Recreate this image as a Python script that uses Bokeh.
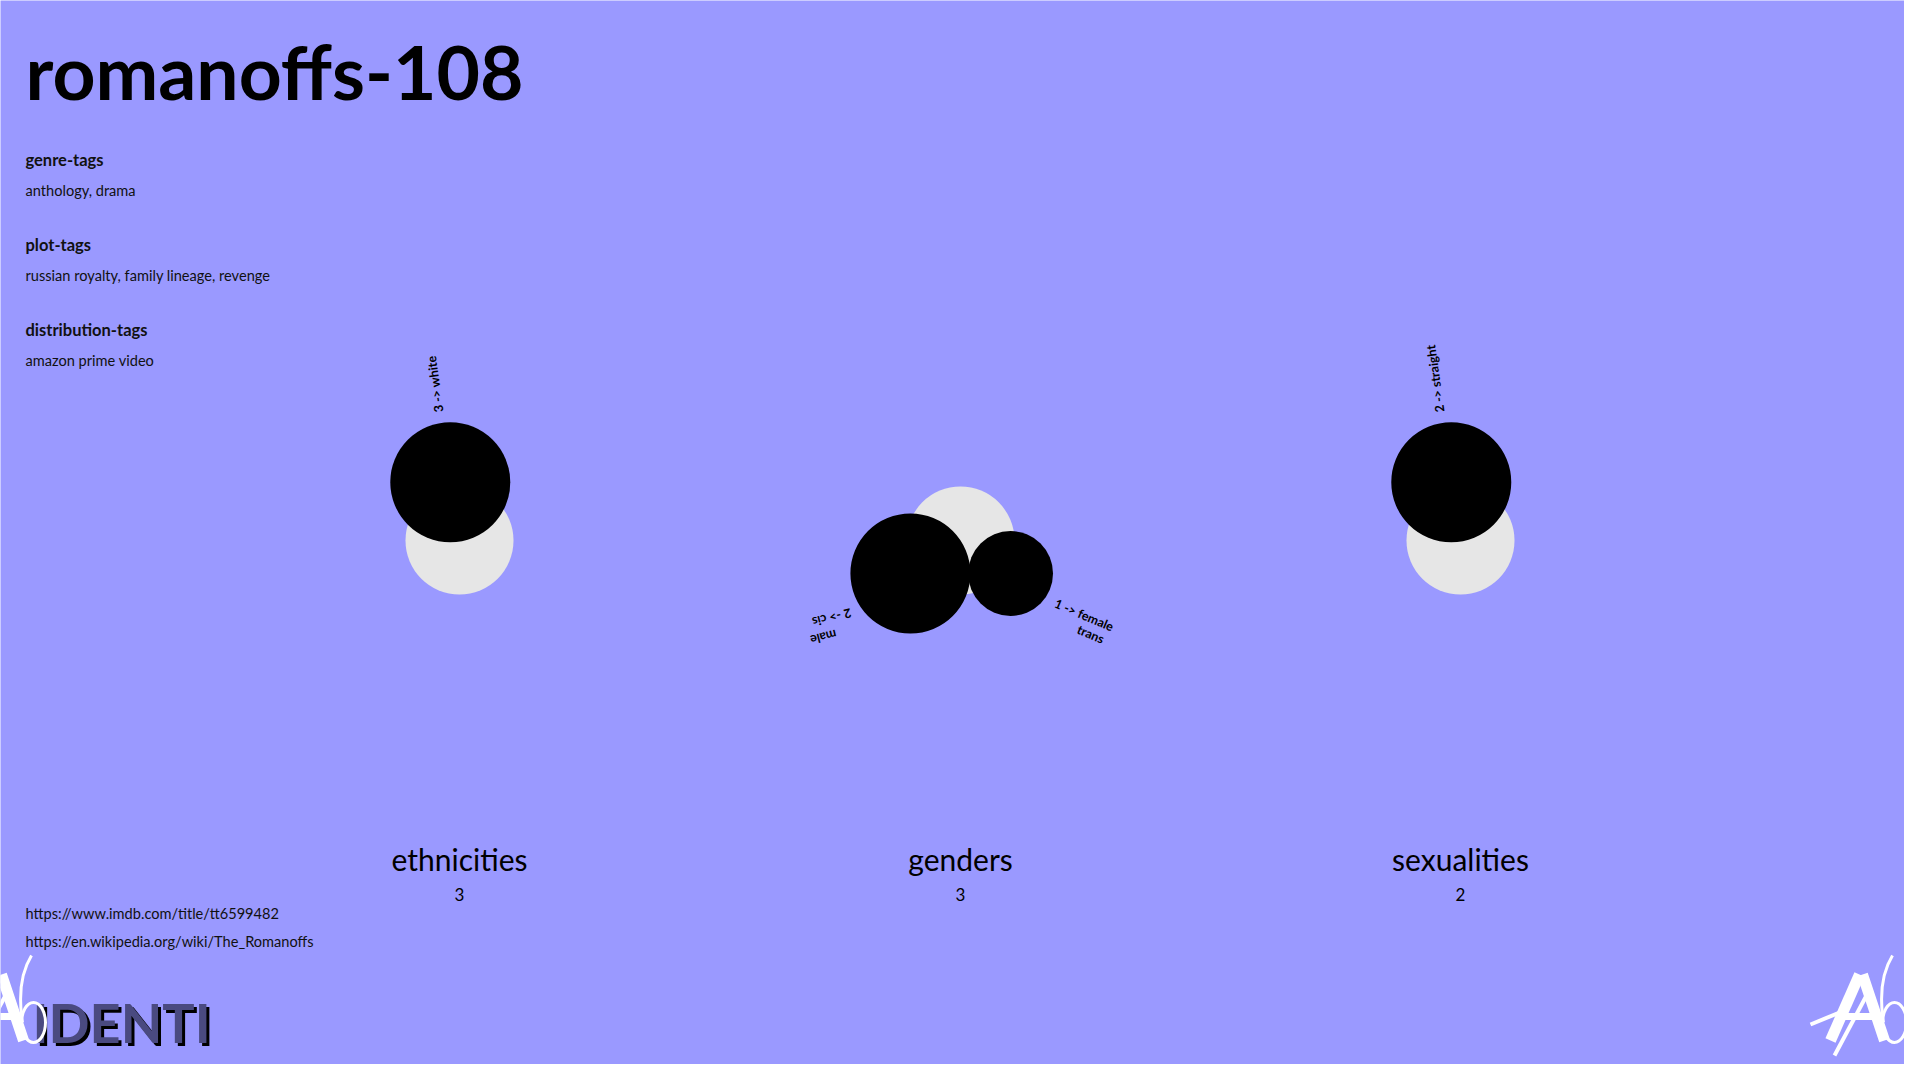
import math

from bokeh.plotting import figure
from bokeh.models import Range1d
from bokeh.core.properties import value
from bokeh.embed import file_html
from bokeh.resources import INLINE

# texts of the page
show_title = "romanoffs-108"
tag_heads = ["genre-tags", "plot-tags", "distribution-tags"]
tag_values = ["anthology, drama", "russian royalty, family lineage, revenge", "amazon prime video"]
links = ["https://www.imdb.com/title/tt6599482", "https://en.wikipedia.org/wiki/The_Romanoffs"]

# the three panels and their groups
categories = ["ethnicities", "genders", "sexualities"]
ethnicity_names = ["white"]
ethnicity_counts = [3]
gender_names = ["cis male", "female trans"]
gender_counts = [2, 1]
sexuality_names = ["straight"]
sexuality_counts = [2]

groups = [
    (ethnicity_names, ethnicity_counts),
    (gender_names, gender_counts),
    (sexuality_names, sexuality_counts),
]

BG = "#9a99ff"
FONT = value("Lato")
W, H = 1904, 1064


def base(y, size):
    # put the text's baseline at y (texts are drawn with baseline "middle")
    return y - 0.39 * size


# data space == pixels of the picture
p = figure(width=W, height=H, x_range=Range1d(0, W), y_range=Range1d(H, 0),
           x_axis_type=None, y_axis_type=None, toolbar_location=None,
           output_backend="svg", min_border=0)
p.background_fill_color = BG
p.border_fill_color = BG
p.outline_line_color = None
p.grid.visible = False

# title and tags
p.text(x=[25], y=[base(98, 75) + 2], text=[show_title], text_font=FONT, text_font_style="bold",
       text_font_size="75px", text_color="black", text_baseline="middle")
head_y = [165.5 + 85 * i for i in range(len(tag_heads))]
p.text(x=[25] * len(tag_heads), y=[base(y, 16.5) for y in head_y], text=tag_heads,
       text_font=FONT, text_font_style="bold", text_font_size="16.5px",
       text_color="#111111", text_baseline="middle")
p.text(x=[25] * len(tag_values), y=[base(y + 30, 14.6) for y in head_y], text=tag_values,
       text_font=FONT, text_font_size="14.6px", text_color="#111111", text_baseline="middle")
p.text(x=[25] * len(links), y=[base(918.5 + 28 * i, 14.6) for i in range(len(links))],
       text=links, text_font=FONT, text_font_size="14.6px", text_color="#111111",
       text_baseline="middle")

# panels
panel_x = [459, 960, 1460]
panel_y = 540
max_r = 60
core_r = 54
gap = 11
lab_size = 12.5
single_layout = {"angles": [99], "dist": 59, "text_angles": [98]}
pair_layout = {"angles": [213.4, -33.4], "dist": 60, "text_angles": [194, -23]}

cx, cy, cr = [], [], []
lx, ly, lt, la = [], [], [], []
rx, ry, rt, ra = [], [], [], []
for (names, counts), px in zip(groups, panel_x):
    lay = single_layout if len(names) == 1 else pair_layout
    top = max(counts)
    for name, n, a, ta in zip(names, counts, lay["angles"], lay["text_angles"]):
        r = max_r * math.sqrt(n / top)
        dx, dy = math.cos(math.radians(a)), -math.sin(math.radians(a))
        cx.append(px + lay["dist"] * dx)
        cy.append(panel_y + lay["dist"] * dy)
        cr.append(r)
        d = lay["dist"] + r + gap
        ax, ay = px + d * dx, panel_y + d * dy
        words = name.split(" ")
        first = f"{n} ->  {words[0]}"
        lx.append(ax)
        ly.append(ay)
        lt.append(first)
        la.append(ta)
        if len(words) > 1:
            t = math.radians(ta)
            ux, uy = math.cos(t), -math.sin(t)
            nx, ny = math.sin(t), math.cos(t)
            if ny < 0:
                nx, ny = -nx, -ny
            rest = " ".join(words[1:])
            if ux < 0:
                # upside-down label: second line ends where the first one ends
                w = 0.41 * lab_size * len(first)
                rx.append(ax + w * ux + 17 * nx)
                ry.append(ay + w * uy + 17 * ny)
                rt.append(rest)
                ra.append(ta)
            else:
                w = 0.41 * lab_size * len(f"{n} ->  ")
                lx.append(ax + w * ux + 15 * nx)
                ly.append(ay + w * uy + 15 * ny)
                lt.append(rest)
                la.append(ta)

p.circle(x=panel_x, y=[panel_y] * len(panel_x), radius=core_r, fill_color="#e6e6e6",
         line_color=None)
p.circle(x=cx, y=cy, radius=cr, fill_color="black", line_color=None)
p.text(x=lx, y=ly, text=lt, angle=la, angle_units="deg", text_font=FONT,
       text_font_style="bold", text_font_size=f"{lab_size}px", text_color="black",
       text_align="left", text_baseline="middle")
p.text(x=rx, y=ry, text=rt, angle=ra, angle_units="deg", text_font=FONT,
       text_font_style="bold", text_font_size=f"{lab_size}px", text_color="black",
       text_align="right", text_baseline="middle")

totals = [sum(c) for _, c in groups]
p.text(x=panel_x, y=[base(870, 30)] * 3, text=categories, text_font=FONT,
       text_font_size="30px", text_color="black", text_align="center", text_baseline="middle")
p.text(x=panel_x, y=[base(901, 17)] * 3, text=[str(t) for t in totals], text_font=FONT,
       text_font_size="17px", text_color="black", text_align="center", text_baseline="middle")

# logos, roughly
p.text(x=[35], y=[base(1046, 54)], text=["IDENTI"], text_font=FONT, text_font_style="bold",
       text_font_size="54px", text_color="black", text_baseline="middle")
p.text(x=[32], y=[base(1043, 54)], text=["IDENTI"], text_font=FONT, text_font_style="bold",
       text_font_size="54px", text_color="#4a4a80", text_baseline="middle")
for s in [-8, -1869]:
    p.segment(x0=[1838 + s, 1870 + s], y0=[1040, 974], x1=[1867 + s, 1892 + s], y1=[974, 1040],
              line_color="white", line_width=11)
    p.segment(x0=[1852 + s], y0=[1016], x1=[1880 + s], y1=[1016], line_color="white",
              line_width=7)
    p.segment(x0=[1842 + s, 1818 + s], y0=[1055, 1024], x1=[1874 + s, 1852 + s],
              y1=[995, 1010], line_color="white", line_width=4)
    p.ellipse(x=[1902 + s], y=[1022], width=24, height=40, fill_color=None,
              line_color="white", line_width=3)
    p.bezier(x0=[1891 + s], y0=[1022], x1=[1900 + s], y1=[955], cx0=[1886 + s], cy0=[990],
             cx1=[1892 + s], cy1=[968], line_color="white", line_width=3)

open("out.html", "w").write(file_html(p, INLINE))
